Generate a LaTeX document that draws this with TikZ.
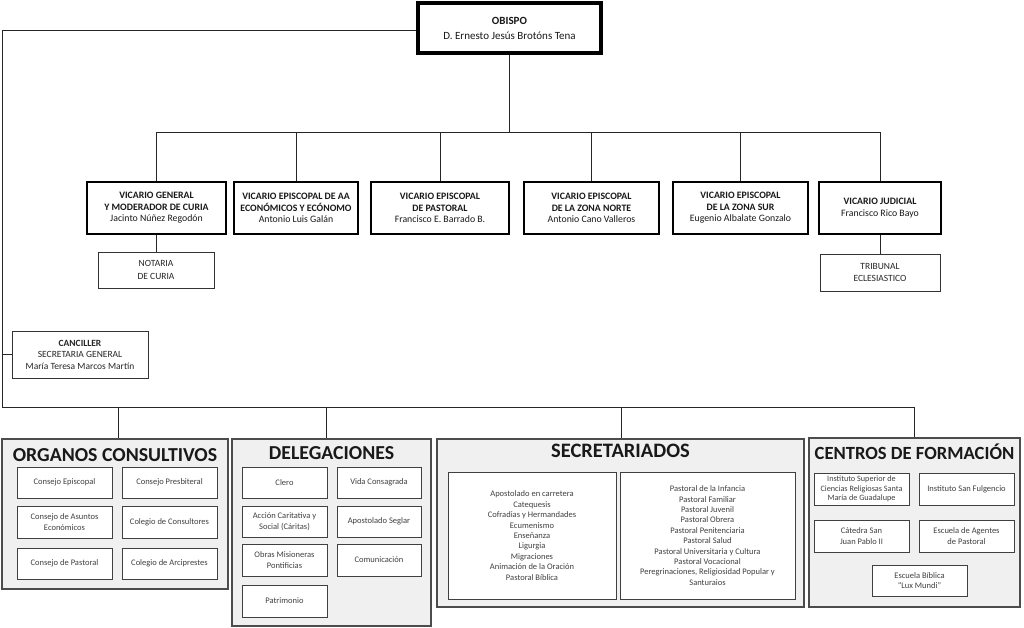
\documentclass[tikz,border=0pt]{standalone}
\usepackage{fontspec}
\setmainfont{Carlito}
\begin{document}
\begin{tikzpicture}[x=1pt,y=-1pt,
 conn/.style={draw=black!85, line width=0.9pt},
 obox/.style={draw=black, line width=4pt, fill=white, align=center, font=\fontsize{11}{15}\selectfont, text=black!90, inner sep=0pt},
 vbox/.style={draw=black, line width=2.6pt, fill=white, align=center, font=\fontsize{9.8}{11.6}\selectfont, text=black!90, inner sep=0pt},
 sbox/.style={draw=black!80, line width=0.8pt, fill=white, align=center, font=\fontsize{9.5}{12.5}\selectfont, text=black!85, inner sep=0pt},
 panel/.style={draw=black!70, line width=1.5pt, fill=gray!12, inner sep=0pt},
 ptitle/.style={font=\fontsize{19.8}{21}\selectfont\bfseries, text=black!90, inner sep=0pt},
 ibox/.style={draw=black!75, line width=0.9pt, fill=white, align=center, font=\fontsize{8.5}{10.4}\selectfont, text=black!75, inner sep=0pt},
]
\useasboundingbox (0,0) rectangle (1024,628);
\fill[white] (0,0) rectangle (1024,628);

% Obispo
\node[obox, minimum width=183, minimum height=50] (ob) at (509.5,28) {\textbf{OBISPO}\\D. Ernesto Jesús Brotóns Tena};

% Vicarios
\node[vbox, minimum width=139, minimum height=52] (v1) at (156.5,208) {\textbf{VICARIO GENERAL}\\\textbf{Y MODERADOR DE CURIA}\\Jacinto Núñez Regodón};
\node[vbox, minimum width=124, minimum height=52] (v2) at (296,208) {\textbf{VICARIO EPISCOPAL DE AA}\\\textbf{ECONÓMICOS Y ECÓNOMO}\\Antonio Luis Galán};
\node[vbox, minimum width=138, minimum height=52] (v3) at (440,208) {\textbf{VICARIO EPISCOPAL}\\\textbf{DE PASTORAL}\\Francisco E. Barrado B.};
\node[vbox, minimum width=135, minimum height=52] (v4) at (591.5,208) {\textbf{VICARIO EPISCOPAL}\\\textbf{DE LA ZONA NORTE}\\Antonio Cano Valleros};
\node[vbox, minimum width=135, minimum height=52] (v5) at (740.5,208) {\textbf{VICARIO EPISCOPAL}\\\textbf{DE LA ZONA SUR}\\Eugenio Albalate Gonzalo};
\node[vbox, minimum width=122, minimum height=52] (v6) at (880,208) {\textbf{VICARIO JUDICIAL}\\Francisco Rico Bayo};

% Subordinate boxes
\node[sbox, minimum width=116, minimum height=36] (not) at (156,270) {NOTARIA\\DE CURIA};
\node[sbox, minimum width=120, minimum height=37] (tri) at (880,272.5) {TRIBUNAL\\ECLESIASTICO};
\node[sbox, minimum width=136, minimum height=47, font=\fontsize{9.5}{11.5}\selectfont] (can) at (80,354.5) {\textbf{CANCILLER}\\SECRETARIA GENERAL\\María Teresa Marcos Martín};

% Panels
\node[panel, minimum width=226, minimum height=150] (org) at (115,514) {};
\node[panel, minimum width=199, minimum height=187] (del) at (331.5,532.5) {};
\node[panel, minimum width=367, minimum height=168] (sec) at (620.5,523) {};
\node[panel, minimum width=211, minimum height=169] (cen) at (914.5,522.5) {};

\node[ptitle] (orgt) at (115,455) {ORGANOS CONSULTIVOS};
\node[ptitle] (delt) at (331.5,453) {DELEGACIONES};
\node[ptitle, font=\fontsize{20.5}{21}\selectfont\bfseries] (sect) at (620.5,451) {SECRETARIADOS};
\node[ptitle, font=\fontsize{18.6}{20}\selectfont\bfseries] (cent) at (914.5,452) {CENTROS DE FORMACIÓN};

% Organos consultivos
\node[ibox, minimum width=95, minimum height=31] (o1) at (64.5,482.5) {Consejo Episcopal};
\node[ibox, minimum width=95, minimum height=31] (o2) at (169.5,482.5) {Consejo Presbiteral};
\node[ibox, minimum width=95, minimum height=32] (o3) at (64.5,522) {Consejo de Asuntos\\Económicos};
\node[ibox, minimum width=95, minimum height=32] (o4) at (169.5,522) {Colegio de Consultores};
\node[ibox, minimum width=95, minimum height=31] (o5) at (64.5,563.5) {Consejo de Pastoral};
\node[ibox, minimum width=95, minimum height=31] (o6) at (169.5,563.5) {Colegio de Arciprestes};

% Delegaciones
\node[ibox, minimum width=85, minimum height=31] (d1) at (284.5,482.5) {Clero};
\node[ibox, minimum width=84, minimum height=31] (d2) at (379,482.5) {Vida Consagrada};
\node[ibox, minimum width=85, minimum height=31] (d3) at (284.5,521.5) {Acción Caritativa y\\Social (Cáritas)};
\node[ibox, minimum width=84, minimum height=31] (d4) at (379,521.5) {Apostolado Seglar};
\node[ibox, minimum width=85, minimum height=32] (d5) at (284.5,560) {Obras Misioneras\\Pontificias};
\node[ibox, minimum width=84, minimum height=32] (d6) at (379,560) {Comunicación};
\node[ibox, minimum width=85, minimum height=32] (d7) at (284.5,601) {Patrimonio};

% Secretariados
\node[ibox, minimum width=168, minimum height=127] (s1) at (532,535.5) {Apostolado en carretera\\Catequesis\\Cofradias y Hermandades\\Ecumenismo\\Enseñanza\\Ligurgia\\Migraciones\\Animación de la Oración\\Pastoral Bíblica};
\node[ibox, minimum width=175, minimum height=127] (s2) at (707.5,535.5) {Pastoral de la Infancia\\Pastoral Familiar\\Pastoral Juvenil\\Pastoral Obrera\\Pastoral Penitenciaria\\Pastoral Salud\\Pastoral Universitaria y Cultura\\Pastoral Vocacional\\Peregrinaciones, Religiosidad Popular y\\Santuraios};

% Centros de formacion
\node[ibox, minimum width=95, minimum height=32, font=\fontsize{8.2}{9.6}\selectfont] (c1) at (861.5,489) {Instituto Superior de\\Ciencias Religiosas Santa\\María de Guadalupe};
\node[ibox, minimum width=95, minimum height=32] (c2) at (966.5,489) {Instituto San Fulgencio};
\node[ibox, minimum width=95, minimum height=32] (c3) at (861.5,536) {Cátedra San\\Juan Pablo II};
\node[ibox, minimum width=95, minimum height=32] (c4) at (966.5,536) {Escuela de Agentes\\de Pastoral};
\node[ibox, minimum width=95, minimum height=31] (c5) at (919.5,580.5) {Escuela Bíblica\\“Lux Mundi”};

% Connectors
\coordinate (busT) at (0,132);
\draw[conn] (ob.south) -- (ob.south |- busT);
\draw[conn] (v1.north |- busT) -- (v6.north |- busT);
\foreach \n in {v1,v2,v3,v4,v5,v6} \draw[conn] (\n.north) -- (\n.north |- busT);
\draw[conn] (v1.south) -- (v1.south |- not.north);
\draw[conn] (v6.south) -- (v6.south |- tri.north);

\coordinate (lt) at (2,30);
\coordinate (lb) at (2,407);
\coordinate (b1) at (118,407);
\coordinate (b2) at (326,407);
\coordinate (b3) at (621,407);
\coordinate (b4) at (914.5,407);
\draw[conn] (ob.west |- lt) -- (lt) -- (lb) -- (b4);
\draw[conn] (can.west -| lb) -- (can.west);
\draw[conn] (b1) -- (b1 |- org.north);
\draw[conn] (b2) -- (b2 |- del.north);
\draw[conn] (b3) -- (b3 |- sec.north);
\draw[conn] (b4) -- (b4 |- cen.north);
\end{tikzpicture}
\end{document}
